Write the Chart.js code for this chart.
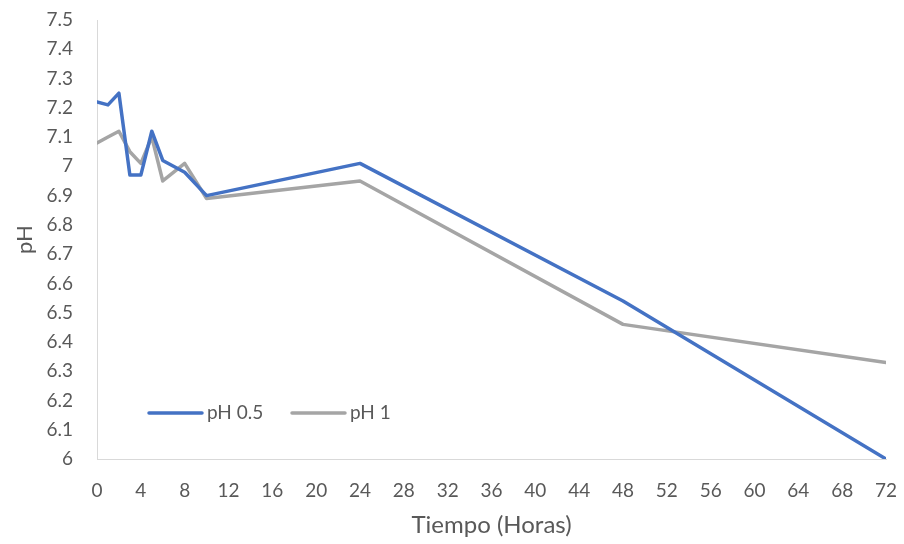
<!DOCTYPE html>
<html>
<head>
<meta charset="utf-8">
<script src="https://cdn.jsdelivr.net/npm/chart.js@4/dist/chart.umd.min.js"></script>
<style>
  html, body { margin: 0; padding: 0; background: #ffffff; }
  #wrap { width: 904px; height: 544px; position: relative; }
</style>
</head>
<body>
<div id="wrap"><canvas id="c" width="904" height="544"></canvas></div>
<script>
// Sampling times (hours)
const horas = [0, 1, 2, 3, 4, 5, 6, 8, 10, 24, 48, 72];
// Measured pH for each condition
const ph05 = [7.22, 7.21, 7.25, 6.97, 6.97, 7.12, 7.02, 6.98, 6.90, 7.01, 6.54, 6.00];
const ph1  = [7.08, 7.10, 7.12, 7.05, 7.01, 7.10, 6.95, 7.01, 6.89, 6.95, 6.46, 6.33];
const seriesNames = ['pH 0.5', 'pH 1'];
const seriesColors = ['#4472C4', '#A5A5A5'];

const FONT = 'Lato, "Open Sans", sans-serif';
const TEXT = '#595959';

function toPoints(xs, ys) {
  return xs.map((x, i) => ({ x: x, y: ys[i] }));
}

// Legend drawn inside the plot area, lower left
const innerLegend = {
  id: 'innerLegend',
  afterDatasetsDraw(chart) {
    const ctx = chart.ctx;
    const xs = [149, 292];
    const y = 413;
    ctx.save();
    ctx.font = '19px ' + FONT;
    ctx.textBaseline = 'middle';
    ctx.textAlign = 'left';
    chart.data.datasets.forEach((ds, i) => {
      ctx.strokeStyle = ds.borderColor;
      ctx.lineWidth = 3.5;
      ctx.lineCap = 'round';
      ctx.beginPath();
      ctx.moveTo(xs[i], y);
      ctx.lineTo(xs[i] + 53, y);
      ctx.stroke();
      ctx.fillStyle = TEXT;
      ctx.fillText(ds.label, xs[i] + 58, y);
    });
    ctx.restore();
  }
};

new Chart(document.getElementById('c'), {
  type: 'line',
  data: {
    datasets: [
      { label: seriesNames[0], data: toPoints(horas, ph05), borderColor: seriesColors[0], backgroundColor: seriesColors[0] },
      { label: seriesNames[1], data: toPoints(horas, ph1), borderColor: seriesColors[1], backgroundColor: seriesColors[1] }
    ]
  },
  options: {
    responsive: false,
    animation: false,
    devicePixelRatio: 1,
    layout: { padding: { left: 0, right: 18, top: 20, bottom: 0 } },
    elements: {
      line: { borderWidth: 3.5, tension: 0, borderJoinStyle: 'round', borderCapStyle: 'round' },
      point: { radius: 0, hoverRadius: 0 }
    },
    plugins: {
      legend: { display: false },
      tooltip: { enabled: false }
    },
    scales: {
      x: {
        type: 'linear',
        min: 0,
        max: 72,
        ticks: { stepSize: 4, color: TEXT, font: { family: FONT, size: 19 }, padding: 20, maxRotation: 0 },
        grid: { display: false, drawTicks: false },
        border: { display: true, color: '#D9D9D9', width: 1 },
        title: { display: true, text: 'Tiempo (Horas)', color: TEXT, font: { family: FONT, size: 24 }, padding: { top: 4, bottom: 4 } },
        afterFit(scale) {
          scale.height = 85;
          scale.paddingLeft = 0;
          scale.paddingRight = 0;
        }
      },
      y: {
        min: 6,
        max: 7.5,
        ticks: { stepSize: 0.1, color: TEXT, font: { family: FONT, size: 19 }, padding: 24,
          callback: (v) => Number(v.toFixed(1)).toString() },
        grid: { display: false, drawTicks: false },
        border: { display: true, color: '#D9D9D9', width: 1 },
        title: { display: true, text: 'pH', color: TEXT, font: { family: FONT, size: 22 }, padding: { top: 12, bottom: 0 } },
        afterFit(scale) {
          scale.width = 97;
          scale.paddingTop = 0;
          scale.paddingBottom = 0;
        }
      }
    }
  },
  plugins: [innerLegend]
});
</script>
</body>
</html>
